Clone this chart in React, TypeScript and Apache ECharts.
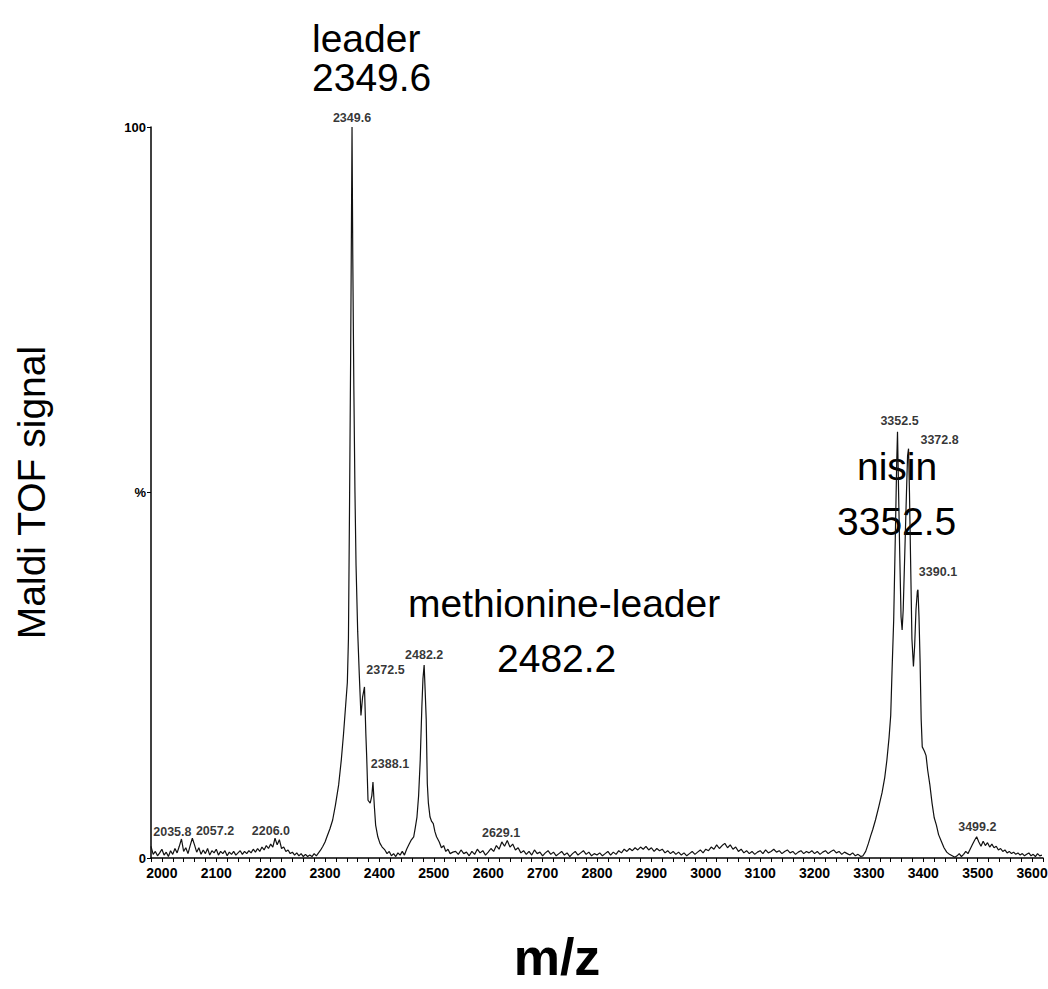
import React, { useEffect, useRef } from "react";
import * as echarts from "echarts";

// ---- Spectrum data (m/z, relative intensity %) ----
const noiseAStart = 1980;
const noiseAStep = 4;
const noiseA = [
  1.6, 0.5, 0.9, 0.3, 0.7,
  1.2, 0.4, 0.8, 0.2, 1.0, 0.5, 1.3, 0.7,
  1.6, 2.6, 0.9, 1.4, 0.6, 1.7, 2.7, 1.8,
  0.8, 1.4, 0.5, 1.1, 0.6, 1.3, 0.4, 1.0, 0.7, 1.2,
  0.4, 0.9, 0.6, 1.0, 0.3, 0.8, 0.5, 0.9, 0.4, 0.7,
  1.0, 0.5, 0.9, 0.6, 1.0, 0.7, 1.2, 0.8, 1.3, 0.9,
  1.5, 1.1, 1.7, 1.3, 1.9, 1.5, 2.7, 1.8, 2.5, 1.3,
  1.5, 0.9, 1.1, 0.6, 0.8, 0.4, 0.7, 0.3, 0.6, 0.2,
  0.5, 0.2, 0.4, 0.2, 0.6, 0.3, 0.7, 1.1, 1.6,
];

const leaderPeak: [number, number][] = [
  [2300, 2.2], [2304, 3.0], [2309, 4.0], [2314, 5.2], [2319, 7.2], [2325, 10],
  [2330, 13.5], [2334, 17], [2338, 21], [2341, 24], [2343, 30], [2345, 48],
  [2347, 68], [2348.5, 86], [2349.6, 100], [2351, 82], [2353, 64], [2355, 50],
  [2357, 40], [2360, 31], [2363, 25], [2366, 19.5], [2369, 22], [2372.5, 23.4],
  [2375, 17], [2376.5, 14], [2379, 7.9], [2383, 7.5], [2386, 8.5], [2388.1, 10.4],
  [2390.7, 7], [2393, 4.5], [2397, 2.9], [2401, 2.0], [2405, 1.5], [2410, 1.1],
  [2414, 0.6], [2418, 0.9], [2422, 0.3], [2426, 0.6], [2430, 0.2], [2434, 0.7],
  [2438, 0.4], [2442, 0.9],
];

const methionineLeaderPeak: [number, number][] = [
  [2446, 0.4], [2450, 1.2], [2454, 1.8], [2458, 2.4], [2463, 2.9], [2466, 4.2],
  [2469, 5.6], [2472, 8.5], [2475, 13.4], [2478, 20.7], [2480, 24.5], [2482.2, 26.4],
  [2484, 23], [2486, 19], [2488, 10.2], [2490, 7.5], [2493, 5.6], [2496, 5.0],
  [2499, 4.7], [2502, 3.6], [2505, 2.9], [2510, 2.2], [2514, 1.4], [2518, 1.7],
  [2522, 0.9], [2526, 1.2], [2530, 0.6], [2535, 0.8],
];

const noiseCStart = 2540;
const noiseCStep = 5;
const noiseC = [
  0.9, 0.5, 1.1, 0.6, 0.8, 0.3, 0.9, 0.5, 1.2, 0.7, 1.0, 0.4, 0.8,
  1.3, 0.9, 1.7, 1.2, 2.2, 1.6, 2.4, 1.5, 1.9, 1.1, 1.4, 0.7,
  1.0, 0.5, 0.9, 0.4, 1.1, 0.6, 0.8, 0.3, 0.7, 1.0, 0.5, 0.8, 0.3, 0.6,
  0.9, 0.4, 0.7, 0.2, 0.6, 0.9, 0.4, 0.7, 1.0, 0.5, 0.8, 0.3, 0.6, 0.4,
  0.7, 0.3, 0.6, 0.9, 0.4, 0.8, 0.5, 1.0, 0.7, 1.2, 0.9, 1.3,
  1.0, 1.4, 1.1, 1.5, 1.2, 1.6, 1.1, 1.4, 0.9, 1.3, 1.0, 1.2, 0.7, 1.0, 0.6, 0.9,
  0.5, 0.8, 0.4, 0.7, 0.3, 0.6, 0.9, 0.5, 0.8, 1.1, 0.7, 1.2,
  1.0, 1.5, 1.2, 1.8, 1.3, 1.7, 2.0, 1.4, 1.8, 1.2, 1.5, 0.9, 1.2, 0.7, 1.0, 0.6,
  0.9, 0.5, 0.8, 1.0, 0.6, 1.1, 0.7, 0.9, 1.2, 0.8, 1.0, 0.6,
  0.9, 1.1, 0.7, 0.9, 0.5, 0.8, 1.0, 0.6, 0.9, 0.7, 1.0, 0.6,
  0.9, 0.5, 0.8, 1.0, 0.6, 0.9, 1.1, 0.7, 0.9, 0.5, 0.8, 0.6, 0.4, 0.7, 0.3, 0.5, 0.2,
];

const nisinPeak: [number, number][] = [
  [3289, 0.3], [3294, 0.9], [3299, 2.0], [3303, 3.0], [3307, 3.9], [3312, 5.2],
  [3318, 7.0], [3324, 8.9], [3329, 11], [3333, 13.4], [3337, 16.5], [3340, 19.5],
  [3342.5, 25.7], [3345.5, 32.6], [3349, 46], [3351, 54], [3352.5, 58.3], [3354, 52],
  [3356.5, 42], [3359, 33], [3361, 31.2], [3363, 34], [3366, 42], [3369, 50],
  [3371, 55], [3372.8, 56], [3374.5, 50], [3376.5, 41], [3379, 30], [3381.8, 26.2],
  [3384, 29], [3386.5, 34], [3389, 36.5], [3390.1, 36.7], [3392, 33], [3394, 27],
  [3396, 19], [3398, 15.2], [3402, 14.6], [3405, 14.0], [3408, 12.0], [3412, 10.0],
  [3416, 7.5], [3420, 5.5], [3424, 4.5], [3428, 3.2], [3433, 2.3], [3438, 1.4],
  [3443, 0.8], [3448, 0.5], [3453, 0.3], [3458, 0.1],
];

const noiseDStart = 3462;
const noiseDStep = 4;
const noiseD = [
  0.3, 0.6, 0.2, 0.5, 0.9, 0.6, 1.2, 1.8, 2.4, 2.9, 2.2, 1.6, 2.3, 1.7, 2.1, 1.5,
  1.9, 1.4, 1.6, 1.1, 1.3, 0.9, 1.1, 0.7, 0.9, 0.6, 0.8, 0.5, 0.7, 0.4, 0.6, 0.3,
  0.5, 0.7, 0.3, 0.5, 0.2, 0.6, 0.3, 0.4,
];

// Peak annotations: [m/z, intensity %, label]
const peakLabels: [number, number, string][] = [
  [2035.8, 2.6, "2035.8"],
  [2057.2, 2.7, "2057.2"],
  [2206.0, 2.7, "2206.0"],
  [2349.6, 100, "2349.6"],
  [2372.5, 23.4, "2372.5"],
  [2388.1, 10.4, "2388.1"],
  [2482.2, 26.4, "2482.2"],
  [2629.1, 2.4, "2629.1"],
  [3352.5, 58.3, "3352.5"],
  [3372.8, 56, "3372.8"],
  [3390.1, 36.7, "3390.1"],
  [3499.2, 2.9, "3499.2"],
];

const yTickLabels: Record<number, string> = { 0: "0", 50: "%", 100: "100" };

const compoundNotes = [
  { lines: ["leader", "2349.6"] },
  { lines: ["methionine-leader", "2482.2"] },
  { lines: ["nisin", "3352.5"] },
];
const xAxisTitle = "m/z";
const yAxisTitle = "Maldi TOF signal";

// label placement (pixels) kept apart from the values
const labelOffsets: Record<string, [number, number]> = {
  "2035.8": [-9, 5],
  "2057.2": [22, 4],
  "2206.0": [-3, 4],
  "2349.6": [0, 2],
  "2372.5": [21, -5],
  "2388.1": [17, -6],
  "2482.2": [0, 1],
  "2629.1": [-3, 4],
  "3352.5": [2, 1],
  "3372.8": [31, 3],
  "3390.1": [20, -6],
  "3499.2": [0, 2],
};

const notePositions = [
  [{ x: 312, y: 38 }, { x: 312, y: 77 }],
  [{ x: 408, y: 603 }, { x: 497, y: 658 }],
  [{ x: 857, y: 466 }, { x: 837, y: 521 }],
];

const FONT = "'Liberation Sans', Arial, Helvetica, sans-serif";

function buildSpectrum(): [number, number][] {
  const pts: [number, number][] = [
    ...noiseA.map((v, i) => [noiseAStart + i * noiseAStep, v] as [number, number]),
    ...leaderPeak,
    ...methionineLeaderPeak,
    ...noiseC.map((v, i) => [noiseCStart + i * noiseCStep, v] as [number, number]),
    ...nisinPeak,
    ...noiseD.map((v, i) => [noiseDStart + i * noiseDStep, v] as [number, number]),
  ];
  return pts.sort((a, b) => a[0] - b[0]);
}

export default function App() {
  const ref = useRef<HTMLDivElement>(null);

  useEffect(() => {
    if (!ref.current) return;
    const chart = echarts.init(ref.current, null, { renderer: "svg" });

    const graphicTexts: any[] = [];
    compoundNotes.forEach((note, ni) => {
      note.lines.forEach((line, li) => {
        const p = notePositions[ni][li];
        graphicTexts.push({
          type: "text",
          x: p.x,
          y: p.y,
          silent: true,
          style: {
            text: line,
            fontSize: 39,
            fontFamily: FONT,
            fill: "#000",
            align: "left",
            verticalAlign: "middle",
          },
        });
      });
    });
    graphicTexts.push({
      type: "text",
      x: 557,
      y: 957,
      silent: true,
      style: {
        text: xAxisTitle,
        fontSize: 52,
        fontWeight: "bold",
        fontFamily: FONT,
        fill: "#000",
        align: "center",
        verticalAlign: "middle",
      },
    });

    const option: any = {
      animation: false,
      backgroundColor: "#fff",
      grid: {
        left: 151,
        right: 5,
        top: 127,
        bottom: 131,
        containLabel: false,
        outerBoundsMode: "none",
      },
      xAxis: {
        type: "value",
        min: 1980,
        max: 3620,
        interval: 20,
        axisLine: { show: true, onZero: false, lineStyle: { color: "#000", width: 1.5 } },
        axisTick: { show: true, length: 4, lineStyle: { color: "#000", width: 1 } },
        axisLabel: {
          formatter: (v: number) => (v % 100 === 0 ? String(v) : ""),
          fontSize: 14,
          fontWeight: "bold",
          color: "#000",
          margin: 8,
          fontFamily: FONT,
        },
        splitLine: { show: false },
      },
      yAxis: {
        type: "value",
        min: 0,
        max: 100,
        interval: 50,
        name: yAxisTitle,
        nameLocation: "middle",
        nameRotate: 90,
        nameGap: 100,
        nameTextStyle: { fontSize: 39, color: "#000", fontFamily: FONT },
        axisLine: { show: true, lineStyle: { color: "#000", width: 1.5 } },
        axisTick: { show: true, length: 4, lineStyle: { color: "#000" } },
        axisLabel: {
          formatter: (v: number) => yTickLabels[v] ?? "",
          fontSize: 13,
          fontWeight: "bold",
          color: "#000",
          margin: 5,
          fontFamily: FONT,
        },
        splitLine: { show: false },
      },
      series: [
        {
          type: "line",
          data: buildSpectrum(),
          showSymbol: false,
          symbol: "none",
          silent: true,
          lineStyle: { color: "#111", width: 1.2 },
        },
        {
          type: "scatter",
          silent: true,
          symbolSize: 0,
          itemStyle: { color: "rgba(0,0,0,0)" },
          data: peakLabels.map(([mz, v, t]) => ({
            value: [mz, v],
            name: t,
            label: { offset: labelOffsets[t] || [0, 0] },
          })),
          label: {
            show: true,
            position: "top",
            formatter: "{b}",
            fontSize: 12.5,
            fontWeight: "bold",
            color: "#000",
            fontFamily: FONT,
          },
        },
      ],
      graphic: graphicTexts,
    };

    chart.setOption(option);
    return () => chart.dispose();
  }, []);

  return (
    <div
      ref={ref}
      style={{ position: "fixed", left: 0, top: 0, width: 1048, height: 989, background: "#fff" }}
    />
  );
}
